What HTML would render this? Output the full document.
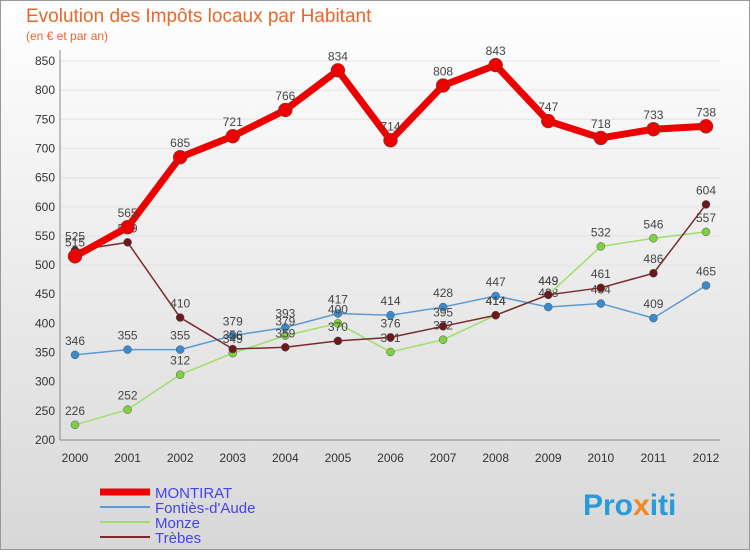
<!DOCTYPE html>
<html><head><meta charset="utf-8"><style>
body{margin:0;background:#fff;font-family:"Liberation Sans",sans-serif}
svg text{font-family:"Liberation Sans",sans-serif}
</style></head><body>
<svg width="750" height="550" xmlns="http://www.w3.org/2000/svg">
<defs><linearGradient id="bg" x1="0" y1="0" x2="0" y2="1"><stop offset="0" stop-color="#ffffff"/><stop offset="1" stop-color="#d8d8d8"/></linearGradient></defs>
<rect x="0.5" y="0.5" width="749" height="549" fill="url(#bg)" stroke="#999"/>
<text x="26" y="22" font-size="19" fill="#e8672b">Evolution des Impôts locaux par Habitant</text>
<text x="26" y="40" font-size="12" fill="#e8672b">(en € et par an)</text>
<g id="axes"></g>
<g id="series"></g>
<g id="legend"></g>
<text x="583" y="515" font-size="30" font-weight="bold" fill="#2a9ad8">Pro<tspan fill="#f08a20">x</tspan>iti</text>
</svg>
<script>
const years=[2000,2001,2002,2003,2004,2005,2006,2007,2008,2009,2010,2011,2012];
const yTicks=[200,250,300,350,400,450,500,550,600,650,700,750,800,850];
const montirat=[515,565,685,721,766,834,714,808,843,747,718,733,738];
const fonties=[346,355,355,379,393,417,414,428,447,428,434,409,465];
const monze=[226,252,312,349,379,400,351,372,414,449,532,546,557];
const trebes=[525,539,410,356,359,370,376,395,414,449,461,486,604];
const NS="http://www.w3.org/2000/svg";
const X=i=>75+i*(706-75)/12;
const Y=v=>440-(v-200)*(440-61)/650;
function mk(t,a,p){const e=document.createElementNS(NS,t);for(const k in a)e.setAttribute(k,a[k]);p.appendChild(e);return e;}
const ax=document.getElementById('axes');
yTicks.forEach(v=>{
 const l=mk('line',{x1:60,x2:720,y1:Y(v),y2:Y(v),stroke:'#e4e4e4'},ax);
 
 
 const t=mk('text',{x:55,y:Y(v)+4,'font-size':12,'text-anchor':'end',fill:'#333'},ax);
 t.textContent=v;
 
 
});
const a1=mk('line',{x1:60,x2:60,y1:50,y2:440,stroke:'#888'},ax);


const a2=mk('line',{x1:60,x2:720,y1:440,y2:440,stroke:'#888'},ax);


years.forEach((y,i)=>{
 const t=mk('text',{x:X(i),y:462,'font-size':12,'text-anchor':'middle',fill:'#333'},ax);
 t.textContent=y;
 
 
});
const sg=document.getElementById('series');
function series(vals,color,dot,w,r,name){
 const g=mk('g',{},sg);
 
 
 const p=mk('polyline',{points:vals.map((v,i)=>X(i)+','+Y(v)).join(' '),fill:'none',stroke:color,'stroke-width':w,'stroke-linejoin':'round'},g);
 
 
 vals.forEach((v,i)=>{
  const c=mk('circle',{cx:X(i),cy:Y(v),r:r,fill:dot,stroke:'#555','stroke-width':0.5},g);
  
  
  const t=mk('text',{x:X(i),y:Y(v)-10,'font-size':12,'text-anchor':'middle',fill:'#444'},g);
  t.textContent=v;
  
  
 });
}
series(fonties,'#5b9bd5','#3a8ad0',1.5,4,'fonties');
series(monze,'#9ee06a','#7fd040',1.5,4,'monze');
series(trebes,'#7a2a2a','#6a1a1a',1.5,4,'trebes');
series(montirat,'#ee0000','#ee0000',7,7,'montirat');
const lg=document.getElementById('legend');
[['MONTIRAT','#ee0000',7],['Fontiès-d\'Aude','#5b9bd5',2],['Monze','#9ee06a',2],['Trèbes','#7a2a2a',2]].forEach((d,i)=>{
 const y=492+i*15;
 const l=mk('line',{x1:100,x2:150,y1:y,y2:y,stroke:d[1],'stroke-width':d[2]},lg);
 
 
 const t=mk('text',{x:155,y:y+6,'font-size':15,fill:'#4444ee'},lg);
 t.textContent=d[0];
 
 
});
</script>
</body></html>
